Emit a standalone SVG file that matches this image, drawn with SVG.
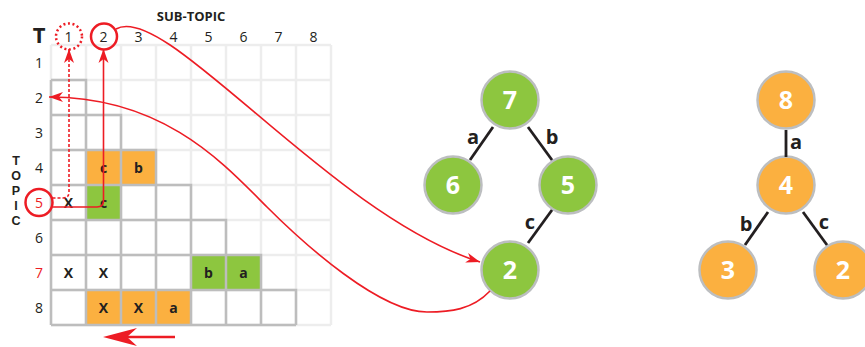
<svg xmlns="http://www.w3.org/2000/svg" width="865" height="347" viewBox="0 0 865 347">
<style>
text{font-family:"Open Sans","Noto Sans","Liberation Sans",sans-serif;fill:#231F20}
.hd{font-size:14px;text-anchor:middle}
.ct{font-size:14px;font-weight:bold;text-anchor:middle}
.dk{fill:none;stroke:#BDBDBD;stroke-width:2.5}
.or{fill:#FBB040}
.gr{fill:#8DC63F}
.red{fill:none;stroke:#ED1C24;stroke-width:1.6}
.nd circle{stroke:#BCBEC0;stroke-width:2.5}
.nd text{font-size:25px;font-weight:bold;fill:#fff;text-anchor:middle}
.edge{stroke:#231F20;stroke-width:2.8}
.el{font-size:20px;font-weight:bold;text-anchor:middle}
.tp{font-family:"Liberation Sans",Arial,sans-serif;font-size:12.5px;font-weight:bold;text-anchor:middle}
</style>
<defs>
<marker id="arr" markerUnits="userSpaceOnUse" markerWidth="16" markerHeight="12" viewBox="0 0 16 12" refX="15" refY="6" orient="auto">
<path d="M1,1 L15,6 L1,11 L5,6 Z" fill="#ED1C24"/>
</marker>
</defs>
<rect width="865" height="347" fill="#fff"/>
<g id="grid">
<path d="M51,45V325M86,45V325M121,45V325M156,45V325M191,45V325M226,45V325M261,45V325M296,45V325M331,45V325M51,45H331M51,80H331M51,115H331M51,150H331M51,185H331M51,220H331M51,255H331M51,290H331M51,325H331" stroke="#EDEDED" stroke-width="2.5" fill="none"/>
<rect class="or" x="86" y="150" width="35" height="35"/>
<rect class="or" x="121" y="150" width="35" height="35"/>
<rect class="gr" x="86" y="185" width="35" height="35"/>
<rect class="gr" x="191" y="255" width="35" height="35"/>
<rect class="gr" x="226" y="255" width="35" height="35"/>
<rect class="or" x="86" y="290" width="35" height="35"/>
<rect class="or" x="121" y="290" width="35" height="35"/>
<rect class="or" x="156" y="290" width="35" height="35"/>
<path class="dk" d="M51,80H86V115M51,80V325M51,115H121V150M86,115V325M51,150H156V185M121,150V325M51,185H191V220M156,185V325M51,220H226V255M191,220V325M51,255H261V290M226,255V325M51,290H296V325M261,290V325M51,325H296"/>
<text class="ct" x="103.5" y="172.5">c</text>
<text class="ct" x="138.5" y="172.5">b</text>
<text class="ct" x="68.5" y="207.5">X</text>
<text class="ct" x="103.5" y="207.5">c</text>
<text class="ct" x="68.5" y="277.5">X</text>
<text class="ct" x="103.5" y="277.5">X</text>
<text class="ct" x="208.5" y="277.5">b</text>
<text class="ct" x="243.5" y="277.5">a</text>
<text class="ct" x="103.5" y="312.5">X</text>
<text class="ct" x="138.5" y="312.5">X</text>
<text class="ct" x="173.5" y="312.5">a</text>
</g>
<g id="labels">
<text x="39" y="43" font-size="22" font-weight="bold" text-anchor="middle">T</text>
<text x="191" y="21" font-size="13" font-weight="bold" text-anchor="middle">SUB-TOPIC</text>
<text class="hd" x="68.5" y="42">1</text>
<text class="hd" x="103.5" y="42">2</text>
<text class="hd" x="138.5" y="42">3</text>
<text class="hd" x="173.5" y="42">4</text>
<text class="hd" x="208.5" y="42">5</text>
<text class="hd" x="243.5" y="42">6</text>
<text class="hd" x="278.5" y="42">7</text>
<text class="hd" x="313.5" y="42">8</text>
<text class="hd" x="39" y="67.5">1</text>
<text class="hd" x="39" y="102.5">2</text>
<text class="hd" x="39" y="137.5">3</text>
<text class="hd" x="39" y="172.5">4</text>
<text class="hd" x="39" y="207.5" style="fill:#ED1C24">5</text>
<text class="hd" x="39" y="242.5">6</text>
<text class="hd" x="39" y="277.5" style="fill:#ED1C24">7</text>
<text class="hd" x="39" y="312.5">8</text>
<text class="tp" x="16" y="165">T</text>
<text class="tp" x="16" y="180">O</text>
<text class="tp" x="16" y="195">P</text>
<text class="tp" x="16" y="210">I</text>
<text class="tp" x="16" y="225">C</text>
<circle cx="69" cy="36.5" r="13" fill="none" stroke="#ED1C24" stroke-width="2.5" stroke-dasharray="2 2.6"/>
<circle cx="104" cy="36.5" r="13" fill="none" stroke="#ED1C24" stroke-width="2.5"/>
<circle cx="39" cy="202.5" r="13.5" fill="none" stroke="#ED1C24" stroke-width="2.5"/>
</g>
<g id="tree1">
<g id="n7" class="nd"><circle cx="510" cy="100" r="28.5" fill="#8DC63F"/><text x="510" y="109">7</text></g>
<g id="n6" class="nd"><circle cx="453" cy="185" r="28.5" fill="#8DC63F"/><text x="453" y="194">6</text></g>
<g id="n5" class="nd"><circle cx="568" cy="185" r="28.5" fill="#8DC63F"/><text x="568" y="194">5</text></g>
<g id="n2" class="nd"><circle cx="510" cy="270" r="28.5" fill="#8DC63F"/><text x="510" y="279">2</text></g>
</g>
<g id="tree2">
<g id="m8" class="nd"><circle cx="786" cy="100" r="28.5" fill="#FBB040"/><text x="786" y="109">8</text></g>
<g id="m4" class="nd"><circle cx="786" cy="185" r="28.5" fill="#FBB040"/><text x="786" y="194">4</text></g>
<g id="m3" class="nd"><circle cx="728" cy="270" r="28.5" fill="#FBB040"/><text x="728" y="279">3</text></g>
<g id="m2" class="nd"><circle cx="843" cy="270" r="28.5" fill="#FBB040"/><text x="843" y="279">2</text></g>
</g>
<g id="connectors">
<line class="edge" x1="493" y1="127" x2="470" y2="160"/>
<line class="edge" x1="528" y1="127" x2="552" y2="160"/>
<line class="edge" x1="552" y1="210" x2="528" y2="243"/>
<text class="el" x="473" y="144">a</text>
<text class="el" x="552" y="144">b</text>
<text class="el" x="530" y="229">c</text>
<line class="edge" x1="786" y1="130" x2="786" y2="157"/>
<line class="edge" x1="768" y1="212" x2="745" y2="245"/>
<line class="edge" x1="803" y1="212" x2="827" y2="245"/>
<text class="el" x="796" y="149">a</text>
<text class="el" x="746" y="231">b</text>
<text class="el" x="824" y="229">c</text>
<path class="red" d="M52.5,198H63Q69,198 69,192V49" stroke-dasharray="3 2" marker-end="url(#arr)"/>
<path class="red" d="M52.5,207H97Q103.5,207 103.5,200.5V49" marker-end="url(#arr)"/>
<path class="red" d="M116,29C165,0 330,215 480,262" marker-end="url(#arr)"/>
<path class="red" d="M490,291C472,310 450,312 427,312C380,312 305,245 267,207C225,165 165,97 49,97" marker-end="url(#arr)"/>
<path d="M175,337H125" stroke="#ED1C24" stroke-width="2.5" fill="none"/>
<path d="M103,337L137,328L127,337L137,346Z" fill="#ED1C24"/>
</g>
</svg>
